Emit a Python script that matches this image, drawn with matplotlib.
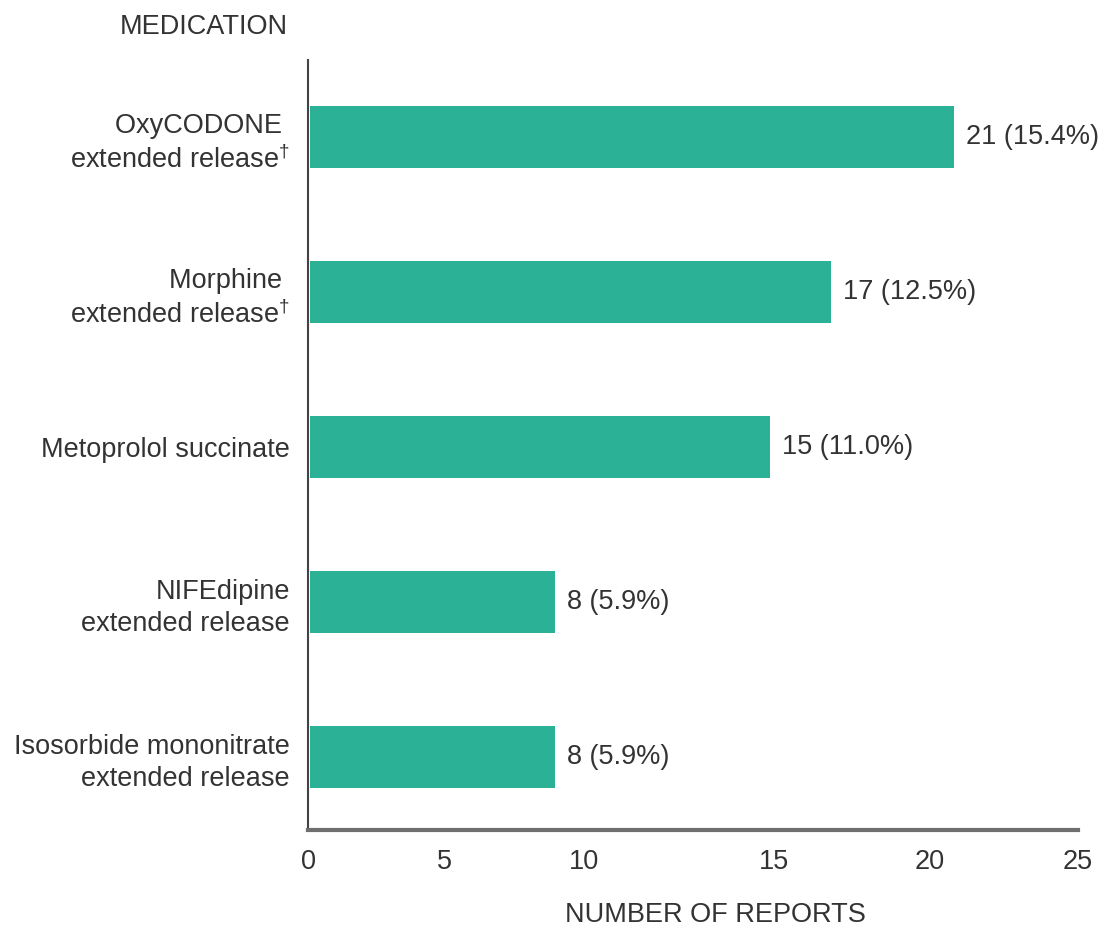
import matplotlib.pyplot as plt

plt.rcParams['font.family'] = ['Liberation Sans', 'DejaVu Sans']
plt.rcParams['mathtext.fontset'] = 'custom'
plt.rcParams['mathtext.rm'] = 'Liberation Sans'

# data
medications = ['OxyCODONE \nextended release$^{\u2020}$',
               'Morphine \nextended release$^{\u2020}$',
               'Metoprolol succinate',
               'NIFEdipine\nextended release',
               'Isosorbide mononitrate\nextended release']
reports = [21, 17, 15, 8, 8]
percents = [15.4, 12.5, 11.0, 5.9, 5.9]
tick_labels = ['0', '5', '10', '15', '20', '25']
# the labels in the source are not evenly spaced
tick_pos = [-0.05, 4.4, 8.95, 15.15, 20.2, 25.05]

bar_color = '#2bb195'
text_color = '#333333'
axis_color = '#6e6e6e'
fs = 19.5

fig = plt.figure(figsize=(11.03, 9.27), dpi=100)
ax = fig.add_axes([308 / 1103, 1 - 830 / 927, 770 / 1103, 770 / 927])

ypos = list(range(len(medications)))
ax.barh(ypos, reports, height=0.4, color=bar_color)
for y, n, p in zip(ypos, reports, percents):
    ax.text(n + 0.4, y, f'{n} ({p:.1f}%)', va='center', ha='left',
            fontsize=fs, color=text_color)

ax.set_xlim(0, 25)
ax.set_ylim(4.47, -0.5)

ax.set_yticks(ypos)
ax.set_yticklabels(medications, fontsize=fs, color=text_color, linespacing=1.3)
ax.set_xticks(tick_pos)
ax.set_xticklabels(tick_labels, fontsize=fs, color=text_color)
ax.tick_params(axis='both', length=0)
ax.tick_params(axis='y', pad=13)
ax.tick_params(axis='x', pad=14)

for side in ['top', 'right']:
    ax.spines[side].set_visible(False)
ax.spines['left'].set_color('#444444')
ax.spines['left'].set_linewidth(1.5)
ax.spines['bottom'].set_color(axis_color)
ax.spines['bottom'].set_linewidth(3)

fig.text(715 / 1103, 1 - 915 / 927, 'NUMBER OF REPORTS', ha='center', va='center',
         fontsize=fs, color=text_color)
fig.text(288 / 1103, 1 - 27 / 927, 'MEDICATION', ha='right', va='center',
         fontsize=fs, color=text_color)

fig.savefig('out.png', dpi=100)
